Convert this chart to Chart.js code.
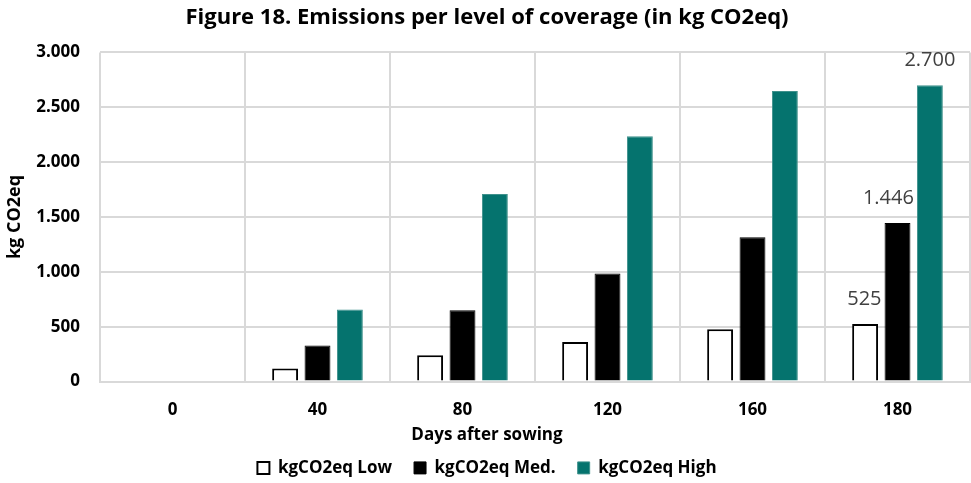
<!DOCTYPE html>
<html>
<head>
<meta charset="utf-8">
<script src="https://cdn.jsdelivr.net/npm/chart.js@4"></script>
<style>
  html, body { margin: 0; padding: 0; background: #fff; }
  #wrap { width: 971px; height: 483px; }
</style>
</head>
<body>
<div id="wrap"><canvas id="barChart" width="971" height="483"></canvas></div>
<script>
var days = ['0', '40', '80', '120', '160', '180'];
var lowValues = [0, 120, 240, 360, 476, 525];
var medValues = [0, 328, 650, 985, 1315, 1446];
var highValues = [0, 656, 1710, 2235, 2648, 2700];
var yTicks = [0, 500, 1000, 1500, 2000, 2500, 3000];
var labelledDay = '180';

var FONT = "'Open Sans', 'Liberation Sans', sans-serif";

// 1.446 style thousands separator
function fmt(v) {
    return String(Math.round(v)).replace(/\B(?=(\d{3})+(?!\d))/g, '.');
}

// values above the bars of one category only,
// pushed left when they would run into the next (taller) bar
var valueLabels = {
    id: 'valueLabels',
    afterDatasetsDraw: function(chart) {
        var ctx = chart.ctx;
        var idx = chart.data.labels.indexOf(labelledDay);
        var n = chart.data.datasets.length;
        ctx.save();
        ctx.font = '20px ' + FONT;
        ctx.fillStyle = '#404040';
        ctx.textAlign = 'center';
        ctx.textBaseline = 'middle';
        chart.data.datasets.forEach(function(ds, i) {
            var bar = chart.getDatasetMeta(i).data[idx];
            var txt = fmt(ds.data[idx]);
            var x = bar.x;
            var y = bar.y - 25;
            if (i < n - 1) {
                var next = chart.getDatasetMeta(i + 1).data[idx];
                var half = ctx.measureText(txt).width / 2;
                var limit = next.x - next.width / 2 - 3;
                if (next.y < y + 12 && x + half > limit) x = limit - half;
            }
            ctx.fillText(txt, x, y);
        });
        ctx.restore();
    }
};

var barCanvas = document.getElementById('barChart').getContext('2d');
var barChart = new Chart(barCanvas, {
    type: 'bar',
    data: {
        labels: days,
        datasets: [{
            label: 'kgCO2eq Low',
            data: lowValues,
            backgroundColor: '#ffffff',
            borderColor: '#000000',
            borderWidth: 2
        }, {
            label: 'kgCO2eq Med.',
            data: medValues,
            backgroundColor: '#000000',
            borderColor: '#000000',
            borderWidth: 1
        }, {
            label: 'kgCO2eq High',
            data: highValues,
            backgroundColor: '#05736e',
            borderColor: '#3f918c',
            borderWidth: 1
        }]
    },
    options: {
        responsive: false,
        animation: false,
        categoryPercentage: 0.67,
        barPercentage: 0.8,
        layout: {
            padding: { left: 4, right: 1, top: 0, bottom: -4 }
        },
        plugins: {
            title: {
                display: true,
                text: 'Figure 18. Emissions per level of coverage (in kg CO2eq)',
                color: '#000000',
                font: { family: FONT, size: 22, weight: 'bold' },
                padding: { top: 5, bottom: 21 }
            },
            subtitle: {
                display: true,
                position: 'bottom',
                weight: 500,
                text: 'Days after sowing',
                color: '#000000',
                font: { family: FONT, size: 17, weight: 'bold' },
                padding: { top: -13, bottom: -8 }
            },
            legend: {
                position: 'bottom',
                labels: {
                    color: '#000000',
                    font: { family: FONT, size: 17, weight: 'bold' },
                    boxWidth: 12,
                    boxHeight: 12,
                    padding: 22
                }
            },
            tooltip: { enabled: false }
        },
        scales: {
            x: {
                grid: { color: '#d9d9d9', lineWidth: 2, drawTicks: false },
                border: { color: '#d9d9d9', width: 2 },
                ticks: {
                    color: '#000000',
                    font: { family: FONT, size: 17, weight: 'bold' },
                    padding: 18
                }
            },
            y: {
                min: 0,
                max: 3000,
                afterBuildTicks: function(scale) {
                    scale.ticks = yTicks.map(function(v) { return { value: v }; });
                },
                afterFit: function(scale) {
                    scale.width = 96;
                },
                grid: { color: '#d9d9d9', lineWidth: 2, drawTicks: false },
                border: { display: false },
                ticks: {
                    color: '#000000',
                    font: { family: FONT, size: 17, weight: 'bold' },
                    padding: 20,
                    callback: function(v) { return fmt(v); }
                },
                title: {
                    display: true,
                    text: 'kg CO2eq',
                    color: '#000000',
                    font: { family: FONT, size: 18, weight: 'bold' },
                    padding: { top: 0, bottom: 0 }
                }
            }
        }
    },
    plugins: [valueLabels]
});
</script>
</body>
</html>
